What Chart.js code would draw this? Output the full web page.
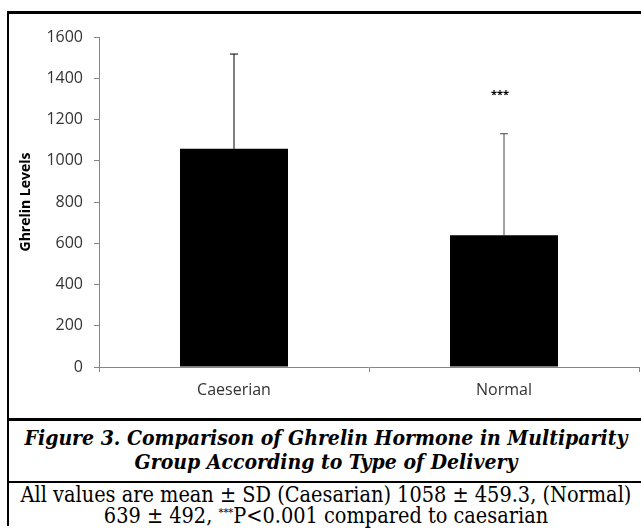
<!DOCTYPE html>
<html>
<head>
<meta charset="utf-8">
<script src="https://cdn.jsdelivr.net/npm/chart.js@4"></script>
<style>
  body { margin: 0; background: #fff; }
  #box {
    position: absolute; left: 7px; top: 11px; width: 634px;
    border-left: 2px solid #000; border-top: 3px solid #000;
  }
  #chartWrap { position: relative; width: 632px; height: 404px; }
  .cap {
    border-top: 3px solid #000; text-align: center;
    font-family: "DejaVu Serif Condensed", "Liberation Serif", serif;
    font-weight: bold; font-style: italic; font-size: 21px; line-height: 24px;
    padding: 5px 0 7px 0; color: #000; white-space: nowrap;
  }
  .note {
    border-top: 2px solid #000; text-align: center;
    font-family: "DejaVu Serif Condensed", "Liberation Serif", serif;
    font-size: 21.5px; line-height: 21px; padding: 1px 0 0 0; color: #000; white-space: nowrap;
  }
  .note sup { font-size: 11px; vertical-align: 7px; line-height: 0; }
</style>
</head>
<body>
<div id="box">
  <div id="chartWrap"><canvas id="ghrelinChart"></canvas></div>
  <div class="cap">Figure 3. Comparison of Ghrelin Hormone in Multiparity<br>Group According to Type of Delivery</div>
  <div class="note">All values are mean ± SD (Caesarian) 1058 ± 459.3, (Normal)<br>639 ± 492, <sup>***</sup>P&lt;0.001 compared to caesarian</div>
</div>
<script>
const deliveryTypes = ["Caeserian", "Normal"];
const ghrelinMean = [1058, 639];
const ghrelinSD = [459.3, 492];
const significance = ["", "***"];
const yTicks = [0, 200, 400, 600, 800, 1000, 1200, 1400, 1600];

// draws the upward SD whiskers and the significance stars
const errorBars = {
	id: "errorBars",
	afterDatasetsDraw(chart) {
		const ctx = chart.ctx;
		const yScale = chart.scales.y;
		const bars = chart.getDatasetMeta(0).data;
		ctx.save();
		bars.forEach(function (bar, i) {
			const top = yScale.getPixelForValue(ghrelinMean[i] + ghrelinSD[i]);
			ctx.strokeStyle = i === 0 ? "#000" : "#444";
			ctx.lineWidth = 1;
			ctx.beginPath();
			ctx.moveTo(bar.x, bar.y);
			ctx.lineTo(bar.x, top);
			ctx.moveTo(bar.x - 4, top);
			ctx.lineTo(bar.x + 4, top);
			ctx.stroke();
			if (significance[i]) {
				ctx.fillStyle = "#000";
				ctx.font = "bold 11px 'Open Sans'";
				ctx.textAlign = "center";
				ctx.textBaseline = "middle";
				ctx.fillText(significance[i], bar.x - 4, top - 39);
			}
		});
		ctx.restore();
	},
};

const canvaGhrelin = document.getElementById("ghrelinChart").getContext("2d");
const ghrelinChart = new Chart(canvaGhrelin, {
	type: "bar",
	data: {
		labels: deliveryTypes,
		datasets: [
			{
				label: "Ghrelin Levels",
				data: ghrelinMean,
				backgroundColor: "#000",
				borderWidth: 0,
				barPercentage: 0.4,
				categoryPercentage: 1,
			},
		],
	},
	options: {
		responsive: true,
		maintainAspectRatio: false,
		animation: false,
		layout: { padding: { top: 23, right: 2, left: 0, bottom: 0 } },
		plugins: {
			legend: { display: false },
			tooltip: { enabled: false },
		},
		scales: {
			x: {
				grid: { drawOnChartArea: false, offset: true, tickLength: 5, color: "#868686" },
				border: { color: "#868686" },
				ticks: { color: "#333", padding: 9, font: { family: "Open Sans", size: 16 } },
				afterFit: function (s) { s.height = 51; },
			},
			y: {
				min: 0,
				max: 1600,
				afterBuildTicks: function (s) { s.ticks = yTicks.map(v => ({ value: v })); },
				grid: { drawOnChartArea: false, tickLength: 5, color: "#868686" },
				border: { color: "#868686" },
				ticks: {
					color: "#333",
					padding: 11,
					font: { family: "Open Sans", size: 16 },
					callback: function (v) { return String(v); },
				},
				title: {
					display: true,
					text: "Ghrelin Levels",
					color: "#000",
					padding: { top: 9, bottom: 0 },
					font: { family: "Open Sans", size: 14, weight: "bold" },
				},
				afterFit: function (s) { s.width = 90; },
			},
		},
	},
	plugins: [errorBars],
});
</script>
</body>
</html>
